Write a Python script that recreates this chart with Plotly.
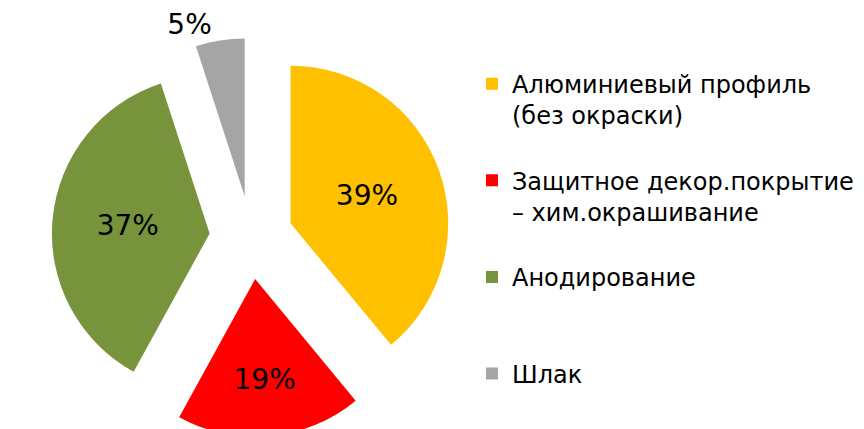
import plotly.graph_objects as go

labels = [
    "Алюминиевый профиль<br>(без окраски)",
    "Защитное декор.покрытие<br>– хим.окрашивание",
    "Анодирование",
    "Шлак",
]
values = [39, 19, 37, 5]
colors = ["#FFC000", "#FF0000", "#77933C", "#A5A5A5"]
text_pos = ["inside", "inside", "inside", "outside"]

# pad legend entries (except the last) to three lines so items are evenly spaced
legend_labels = [
    lab + "<br> " * (2 - lab.count("<br>")) if i < len(labels) - 1 else lab
    for i, lab in enumerate(labels)
]

fig = go.Figure()

fig.add_trace(
    go.Pie(
        labels=legend_labels,
        values=values,
        sort=False,
        direction="clockwise",
        rotation=0,
        pull=0.265,
        marker=dict(colors=colors, line=dict(width=0)),
        textinfo="percent",
        texttemplate="%{percent:.0%}",
        textposition=text_pos,
        insidetextorientation="horizontal",
        textfont=dict(family="DejaVu Sans", size=28, color="#000000"),
        domain=dict(x=[0.05, 0.513], y=[0.0, 0.93]),
        hoverinfo="label+percent",
    )
)

fig.update_layout(
    width=864,
    height=429,
    margin=dict(l=0, r=0, t=0, b=0, autoexpand=False),
    paper_bgcolor="white",
    plot_bgcolor="white",
    showlegend=True,
    legend=dict(
        x=0.537,
        y=0.875,
        xanchor="left",
        yanchor="top",
        valign="top",
        font=dict(family="DejaVu Sans", size=24, color="#000000"),
        bgcolor="rgba(0,0,0,0)",
    ),
)

fig.write_html("out.html")
